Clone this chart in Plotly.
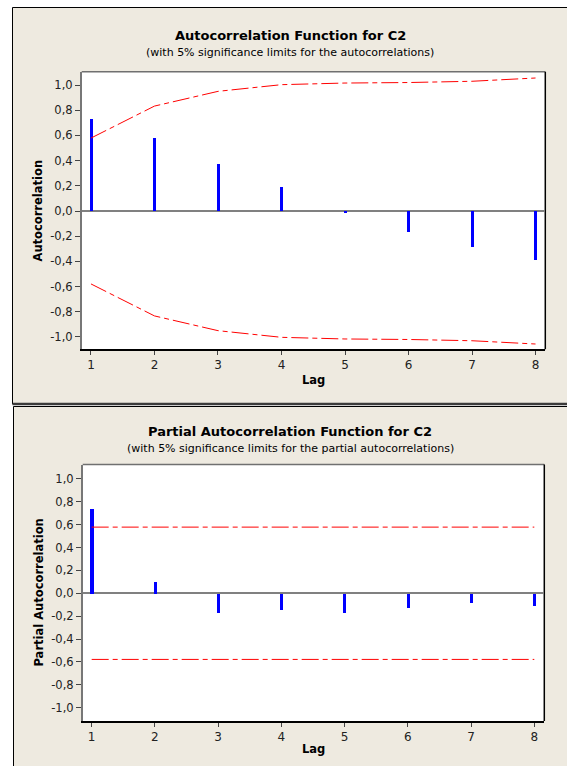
import plotly.graph_objects as go

# ---------------- data ----------------
LAGS = [1, 2, 3, 4, 5, 6, 7, 8]
ACF = [0.733, 0.579, 0.378, 0.196, -0.010, -0.161, -0.286, -0.383]
ACF_UPPER = [0.579, 0.833, 0.950, 1.003, 1.016, 1.020, 1.030, 1.056]
ACF_LOWER = [-0.579, -0.833, -0.950, -1.003, -1.016, -1.020, -1.030, -1.056]
PACF = [0.742, 0.105, -0.166, -0.140, -0.164, -0.128, -0.080, -0.108]
PACF_UPPER = [0.578, 0.578, 0.578, 0.578, 0.578, 0.578, 0.578, 0.578]
PACF_LOWER = [-0.578, -0.578, -0.578, -0.578, -0.578, -0.578, -0.578, -0.578]
Y_TICKS = [-1.0, -0.8, -0.6, -0.4, -0.2, 0.0, 0.2, 0.4, 0.6, 0.8, 1.0]
Y_TICK_TEXT = ["-1,0", "-0,8", "-0,6", "-0,4", "-0,2", "0,0", "0,2", "0,4", "0,6", "0,8", "1,0"]
X_TICK_TEXT = ["1", "2", "3", "4", "5", "6", "7", "8"]

TITLE_1 = "Autocorrelation Function for C2"
SUB_1 = "(with 5% significance limits for the autocorrelations)"
YLAB_1 = "Autocorrelation"
TITLE_2 = "Partial Autocorrelation Function for C2"
SUB_2 = "(with 5% significance limits for the partial autocorrelations)"
YLAB_2 = "Partial Autocorrelation"
XLAB = "Lag"

# ---------------- layout helpers ----------------
W, H = 567, 766
FONT = "DejaVu Sans"
BEIGE = "#EEEAE0"
DASH = "17px,4px,5px,4px"


def fx(p):
    return p / W


def fy(p):
    return 1 - p / H


# plot-area pixel boxes (left, top, right, bottom)
BOX1 = (81.7, 71.7, 545.3, 349.3)
BOX2 = (82.7, 464.5, 544.3, 721.0)

fig = go.Figure()

# ACF
fig.add_trace(go.Bar(x=LAGS, y=ACF, width=0.048, marker=dict(color="#0000FF", line=dict(width=0)),
                     xaxis="x", yaxis="y", showlegend=False))
for lim in (ACF_UPPER, ACF_LOWER):
    fig.add_trace(go.Scatter(x=LAGS, y=lim, mode="lines", line=dict(color="#FF0000", width=1, dash=DASH),
                             xaxis="x", yaxis="y", showlegend=False))
# PACF
fig.add_trace(go.Bar(x=LAGS, y=PACF, width=0.05, marker=dict(color="#0000FF", line=dict(width=0)),
                     xaxis="x2", yaxis="y2", showlegend=False))
for lim in (PACF_UPPER, PACF_LOWER):
    fig.add_trace(go.Scatter(x=LAGS, y=lim, mode="lines", line=dict(color="#FF0000", width=1, dash=DASH),
                             xaxis="x2", yaxis="y2", showlegend=False))


def xaxis_cfg(box, rng, anchor):
    return dict(domain=[fx(box[0]), fx(box[2])], range=rng, anchor=anchor,
                tickvals=LAGS, ticktext=X_TICK_TEXT, ticks="outside", ticklen=4, tickwidth=1,
                tickcolor="#444444", showline=True, linecolor="#000000", linewidth=1.5,
                showgrid=False, zeroline=False, fixedrange=True,
                tickfont=dict(family=FONT, size=12, color="#222222"))


def yaxis_cfg(box, rng, anchor):
    return dict(domain=[fy(box[3]), fy(box[1])], range=rng, anchor=anchor,
                tickvals=Y_TICKS, ticktext=Y_TICK_TEXT, ticks="outside", ticklen=5, tickwidth=1,
                tickcolor="#444444", showline=True, linecolor="#777777", linewidth=1.5,
                showgrid=False, zeroline=True, zerolinecolor="#808080", zerolinewidth=1.5,
                fixedrange=True, tickfont=dict(family=FONT, size=11.5, color="#222222"))


shapes = [
    # top panel
    dict(type="rect", xref="paper", yref="paper", x0=fx(12.5), x1=1.05, y0=fy(404), y1=fy(7.5),
         fillcolor=BEIGE, line=dict(color="#000000", width=1), layer="below"),
    dict(type="line", xref="paper", yref="paper", x0=fx(12.5), x1=1.05, y0=fy(404), y1=fy(404),
         line=dict(color="#3a3a3a", width=2.5), layer="below"),
    # bottom panel
    dict(type="rect", xref="paper", yref="paper", x0=fx(13.5), x1=1.05, y0=-0.05, y1=fy(406.5),
         fillcolor=BEIGE, line=dict(color="#000000", width=1), layer="below"),
]
for box in (BOX1, BOX2):
    l, t, r, b = box
    shapes.append(dict(type="rect", xref="paper", yref="paper", x0=fx(l), x1=fx(r), y0=fy(b), y1=fy(t),
                       fillcolor="#FFFFFF", line=dict(width=0), layer="below"))
    shapes.append(dict(type="line", xref="paper", yref="paper", x0=fx(l), x1=fx(r), y0=fy(t), y1=fy(t),
                       line=dict(color="#707070", width=1.5), layer="below"))
    shapes.append(dict(type="line", xref="paper", yref="paper", x0=fx(r), x1=fx(r), y0=fy(b), y1=fy(t),
                       line=dict(color="#000000", width=1.5), layer="below"))


def ann(text, x, y, size, angle=0):
    return dict(text=text, xref="paper", yref="paper", x=x, y=y, xanchor="center", yanchor="middle",
                showarrow=False, textangle=angle, font=dict(family=FONT, size=size, color="#000000"))


annotations = [
    ann("<b>" + TITLE_1 + "</b>", fx(290), fy(35.5), 13),
    ann(SUB_1, fx(290), fy(53), 11),
    ann("<b>" + YLAB_1 + "</b>", fx(37), fy(210.5), 11.5, -90),
    ann("<b>" + XLAB + "</b>", fx((BOX1[0] + BOX1[2]) / 2), fy(380), 11.5),
    ann("<b>" + TITLE_2 + "</b>", fx(290), fy(431.7), 13),
    ann(SUB_2, fx(290), fy(448), 11),
    ann("<b>" + YLAB_2 + "</b>", fx(38.5), fy(593), 11.5, -90),
    ann("<b>" + XLAB + "</b>", fx((BOX2[0] + BOX2[2]) / 2), fy(748.5), 11.5),
]

fig.update_layout(
    width=W, height=H, margin=dict(l=0, r=0, t=0, b=0),
    paper_bgcolor="#FFFFFF", plot_bgcolor="#FFFFFF",
    xaxis=xaxis_cfg(BOX1, [0.854, 8.154], "y"),
    yaxis=yaxis_cfg(BOX1, [-1.098, 1.106], "x"),
    xaxis2=xaxis_cfg(BOX2, [0.858, 8.158], "y2"),
    yaxis2=yaxis_cfg(BOX2, [-1.116, 1.125], "x2"),
    shapes=shapes, annotations=annotations,
    bargap=0, showlegend=False,
    font=dict(family=FONT),
)

fig.write_html("out.html", config={"displayModeBar": False},
               post_script="document.body.style.margin='0px';document.body.style.overflow='hidden';")
